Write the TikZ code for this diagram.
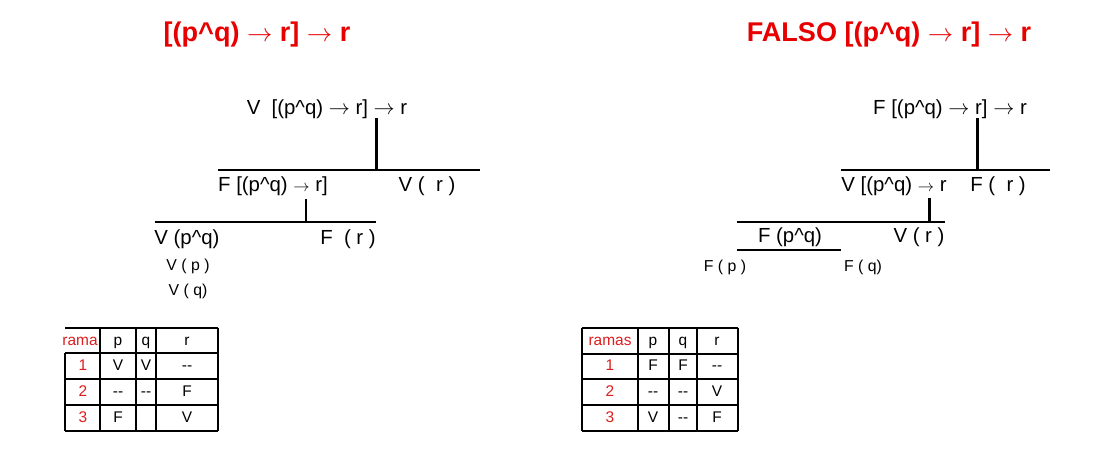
\documentclass[tikz,border=0pt]{standalone}
\usepackage{fontspec}
\setmainfont{Liberation Sans}
\newcommand{\crt}{\textasciicircum}
\newcommand{\arr}{$\rightarrow$}
\newcommand{\sarr}{\resizebox{0.8em}{!}{$\rightarrow$}}
\definecolor{titred}{RGB}{232,0,0}
\definecolor{numred}{RGB}{220,30,30}
\begin{document}
\begin{tikzpicture}[x=0.02cm,y=-0.02cm,
  ttl/.style={font=\bfseries\fontsize{15.4}{17}\selectfont,text=titred,inner sep=0pt,text height=0.75em,text depth=0.2em},
  big/.style={font=\fontsize{11.6}{13}\selectfont,inner sep=0pt,text height=0.75em,text depth=0.2em},
  small/.style={font=\fontsize{9}{10}\selectfont,inner sep=0pt,text height=0.75em,text depth=0.2em},
  cell/.style={font=\fontsize{8.8}{10}\selectfont,inner sep=0pt,text height=0.72em,text depth=0.2em},
  rcell/.style={cell,text=numred},
  bar/.style={line width=1.7pt},
  grid/.style={line width=0.6pt}]
\fill[white] (0,0) rectangle (1094,450);
\useasboundingbox (0,0) rectangle (1094,450);

% titles
\node[ttl] (title1) at (257,37) {[(p\crt q) \arr\ r] \arr\ r};
\node[ttl] (title2) at (889,37) {FALSO [(p\crt q) \arr\ r] \arr\ r};

% ---------- tree 1 ----------
\node[big] (a0) at (327,110) {V\ \ [(p\crt q) \arr\ r] \arr\ r};
\coordinate (a0b) at (376,118);
\coordinate (a1m) at (376,170);
\coordinate (a1l) at (218,170);
\coordinate (a1r) at (480,170);
\draw[bar] (a0b) -- (a1m);
\draw[bar] (a1l) -- (a1r);
\node[big] (a1) at (273,187) {F [(p\crt q) \sarr\ r]};
\node[big] (a2) at (427,187) {V (\ \ r )};
\coordinate (a1b) at (306,199);
\coordinate (a3m) at (306,222);
\coordinate (a3l) at (155,222);
\coordinate (a3r) at (376,222);
\draw[bar] (a1b) -- (a3m);
\draw[bar] (a3l) -- (a3r);
\node[big] (a3) at (187,240) {V (p\crt q)};
\node[big] (a4) at (348,240) {F\ \ ( r )};
\node[small] (a5) at (188,266) {V ( p )};
\node[small] (a6) at (188,291) {V ( q)};

% ---------- tree 2 ----------
\node[big] (b0) at (950,110) {F [(p\crt q) \arr\ r] \arr\ r};
\coordinate (b0b) at (977,118);
\coordinate (b1m) at (977,170);
\coordinate (b1l) at (841,170);
\coordinate (b1r) at (1050,170);
\draw[bar] (b0b) -- (b1m);
\draw[bar] (b1l) -- (b1r);
\node[big] (b1) at (894,187) {V [(p\crt q) \sarr\ r};
\node[big] (b2) at (998,187) {F (\ \ r )};
\coordinate (b1b) at (929,198);
\coordinate (b3m) at (929,222);
\coordinate (b3l) at (737,222);
\coordinate (b3r) at (945,222);
\draw[bar] (b1b) -- (b3m);
\draw[bar] (b3l) -- (b3r);
\node[big] (b3) at (790,238) {F (p\crt q)};
\node[big] (b4) at (919,238) {V ( r )};
\coordinate (b5l) at (737,250);
\coordinate (b5r) at (841,250);
\draw[bar] (b5l) -- (b5r);
\node[small] (b5) at (725,267) {F ( p )};
\node[small] (b6) at (863,267) {F ( q)};

% ---------- table 1 ----------
\draw[grid] (65,328) -- (218,328);
\draw[grid] (65,353) -- (218,353);
\draw[grid] (65,379) -- (218,379);
\draw[grid] (65,405) -- (218,405);
\draw[grid] (65,431) -- (218,431);
\draw[grid] (65,353) -- (65,431);
\draw[grid] (100,328) -- (100,431);
\draw[grid] (136,328) -- (136,431);
\draw[grid] (156,328) -- (156,431);
\draw[grid] (218,328) -- (218,431);
\node[rcell] (t1h0) at (80,341) {rama};
\node[cell] (t1h1) at (118,341) {p};
\node[cell] (t1h2) at (146,341) {q};
\node[cell] (t1h3) at (187,341) {r};
\node[rcell] (t1a0) at (83,366) {1};
\node[cell] (t1a1) at (118,366) {V};
\node[cell] (t1a2) at (146,366) {V};
\node[cell] (t1a3) at (187,366) {-{}-};
\node[rcell] (t1b0) at (83,392) {2};
\node[cell] (t1b1) at (118,392) {-{}-};
\node[cell] (t1b2) at (146,392) {-{}-};
\node[cell] (t1b3) at (187,392) {F};
\node[rcell] (t1c0) at (83,418) {3};
\node[cell] (t1c1) at (118,418) {F};
\node[cell] (t1c3) at (187,418) {V};

% ---------- table 2 ----------
\draw[grid] (582,328) -- (738,328);
\draw[grid] (582,354) -- (738,354);
\draw[grid] (582,379) -- (738,379);
\draw[grid] (582,405) -- (738,405);
\draw[grid] (582,431) -- (738,431);
\draw[grid] (582,328) -- (582,431);
\draw[grid] (638,328) -- (638,431);
\draw[grid] (669,328) -- (669,431);
\draw[grid] (697,328) -- (697,431);
\draw[grid] (738,328) -- (738,431);
\node[rcell] (t2h0) at (610,341) {ramas};
\node[cell] (t2h1) at (653,341) {p};
\node[cell] (t2h2) at (683,341) {q};
\node[cell] (t2h3) at (717,341) {r};
\node[rcell] (t2a0) at (610,366) {1};
\node[cell] (t2a1) at (653,366) {F};
\node[cell] (t2a2) at (683,366) {F};
\node[cell] (t2a3) at (717,366) {-{}-};
\node[rcell] (t2b0) at (610,392) {2};
\node[cell] (t2b1) at (653,392) {-{}-};
\node[cell] (t2b2) at (683,392) {-{}-};
\node[cell] (t2b3) at (717,392) {V};
\node[rcell] (t2c0) at (610,418) {3};
\node[cell] (t2c1) at (653,418) {V};
\node[cell] (t2c2) at (683,418) {-{}-};
\node[cell] (t2c3) at (717,418) {F};
\end{tikzpicture}
\end{document}
